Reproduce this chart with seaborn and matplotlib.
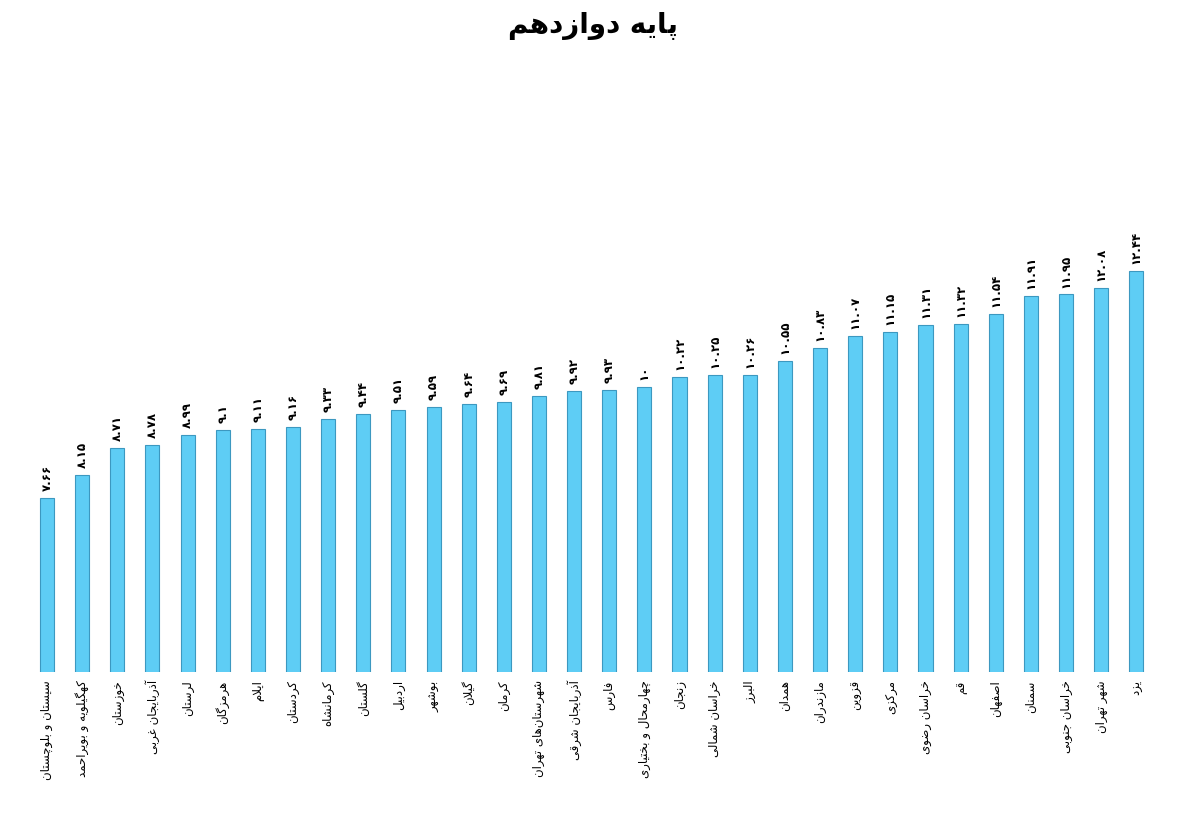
import matplotlib
matplotlib.use("Agg")
import matplotlib.pyplot as plt
import seaborn as sns
import pandas as pd

provinces = [
    "سیستان و بلوچستان", "کهگیلویه و بویراحمد", "خوزستان", "آذربایجان غربی",
    "لرستان", "هرمزگان", "ایلام", "کردستان", "کرمانشاه", "گلستان", "اردبیل",
    "بوشهر", "گیلان", "کرمان", "شهرستان\u200cهای تهران", "آذربایجان شرقی",
    "فارس", "چهارمحال و بختیاری", "زنجان", "خراسان شمالی", "البرز", "همدان",
    "مازندران", "قزوین", "مرکزی", "خراسان رضوی", "قم", "اصفهان", "سمنان",
    "خراسان جنوبی", "شهر تهران", "یزد",
]
values = [7.66, 8.15, 8.71, 8.78, 8.99, 9.1, 9.11, 9.16, 9.33, 9.44, 9.51,
          9.59, 9.64, 9.69, 9.81, 9.92, 9.93, 10, 10.22, 10.25, 10.26, 10.55,
          10.83, 11.07, 11.15, 11.31, 11.32, 11.54, 11.91, 11.95, 12.08, 12.44]
title = "پایه دوازدهم"

# --- minimal Arabic/Persian shaper (matplotlib has no shaping) ---
FORMS = {
    '\u0627': (0xFE8D, 0xFE8E, None, None),
    '\u0622': (0xFE81, 0xFE82, None, None),
    '\u0628': (0xFE8F, 0xFE90, 0xFE91, 0xFE92),
    '\u062A': (0xFE95, 0xFE96, 0xFE97, 0xFE98),
    '\u062C': (0xFE9D, 0xFE9E, 0xFE9F, 0xFEA0),
    '\u062D': (0xFEA1, 0xFEA2, 0xFEA3, 0xFEA4),
    '\u062E': (0xFEA5, 0xFEA6, 0xFEA7, 0xFEA8),
    '\u062F': (0xFEA9, 0xFEAA, None, None),
    '\u0630': (0xFEAB, 0xFEAC, None, None),
    '\u0631': (0xFEAD, 0xFEAE, None, None),
    '\u0632': (0xFEAF, 0xFEB0, None, None),
    '\u0633': (0xFEB1, 0xFEB2, 0xFEB3, 0xFEB4),
    '\u0634': (0xFEB5, 0xFEB6, 0xFEB7, 0xFEB8),
    '\u0635': (0xFEB9, 0xFEBA, 0xFEBB, 0xFEBC),
    '\u0636': (0xFEBD, 0xFEBE, 0xFEBF, 0xFEC0),
    '\u063A': (0xFECD, 0xFECE, 0xFECF, 0xFED0),
    '\u0641': (0xFED1, 0xFED2, 0xFED3, 0xFED4),
    '\u0642': (0xFED5, 0xFED6, 0xFED7, 0xFED8),
    '\u0644': (0xFEDD, 0xFEDE, 0xFEDF, 0xFEE0),
    '\u0645': (0xFEE1, 0xFEE2, 0xFEE3, 0xFEE4),
    '\u0646': (0xFEE5, 0xFEE6, 0xFEE7, 0xFEE8),
    '\u0647': (0xFEE9, 0xFEEA, 0xFEEB, 0xFEEC),
    '\u0648': (0xFEED, 0xFEEE, None, None),
    '\u067E': (0xFB56, 0xFB57, 0xFB58, 0xFB59),
    '\u0686': (0xFB7A, 0xFB7B, 0xFB7C, 0xFB7D),
    '\u06A9': (0xFB8E, 0xFB8F, 0xFB90, 0xFB91),
    '\u06AF': (0xFB92, 0xFB93, 0xFB94, 0xFB95),
    '\u06CC': (0xFBFC, 0xFBFD, 0xFBFE, 0xFBFF),
}


def shape(text):
    # lam-alef ligatures
    chars = []
    i = 0
    while i < len(text):
        c = text[i]
        if c == '\u0644' and i + 1 < len(text) and text[i + 1] in ('\u0627', '\u0622'):
            chars.append(('LA', text[i + 1]))
            i += 2
        else:
            chars.append((c, None))
            i += 1

    def dual(item):
        c, _ = item
        if c == 'LA':
            return False
        f = FORMS.get(c)
        return f is not None and f[2] is not None

    def joining(item):
        c, _ = item
        return c == 'LA' or c in FORMS

    out = []
    for k, item in enumerate(chars):
        c, extra = item
        prev_join = k > 0 and dual(chars[k - 1]) and joining(item)
        next_join = k + 1 < len(chars) and dual(item) and joining(chars[k + 1])
        if c == 'LA':
            iso, fin = (0xFEFB, 0xFEFC) if extra == '\u0627' else (0xFEF5, 0xFEF6)
            out.append(chr(fin if prev_join else iso))
            continue
        if c == '\u200c':
            continue
        f = FORMS.get(c)
        if f is None:
            out.append(c)
            continue
        iso, fin, ini, med = f
        if prev_join and next_join:
            out.append(chr(med))
        elif prev_join:
            out.append(chr(fin))
        elif next_join:
            out.append(chr(ini))
        else:
            out.append(chr(iso))
    return ''.join(reversed(out))


FA_DIGITS = str.maketrans('0123456789', '۰۱۲۳۴۵۶۷۸۹')


def fa_num(v):
    s = ('%g' % v)
    return s.translate(FA_DIGITS)


sns.set_theme(style="white")
plt.rcParams['font.family'] = ['DejaVu Sans']

df = pd.DataFrame({"province": [shape(p) for p in provinces], "value": values})

fig = plt.figure(figsize=(11.85, 8.26), dpi=100)
ax = fig.add_axes([0.0248, 0.1864, 0.949, 0.575])
sns.barplot(data=df, x="province", y="value", color="#5ECDF5",
            edgecolor="#3C98C0", linewidth=0.8, width=0.4, ax=ax,
            saturation=1)
ax.set_ylim(4, 14)
ax.set_xlim(-0.5, len(values) - 0.5)
ax.set_xlabel("")
ax.set_ylabel("")
ax.set_yticks([])
for s in ax.spines.values():
    s.set_visible(False)
ax.tick_params(axis='x', length=0, pad=6)
for lbl in ax.get_xticklabels():
    lbl.set_rotation(90)
    lbl.set_ha('center')
    lbl.set_va('top')
    lbl.set_fontsize(8.5)
    lbl.set_color('black')

for k, v in enumerate(values):
    ax.annotate(fa_num(v), (k, v), xytext=(0, 5), textcoords='offset points',
                rotation=90, ha='center', va='bottom', fontsize=8.5,
                fontweight='bold', color='black')

fig.text(0.5, 0.968, shape(title), ha='center', va='center', fontsize=20,
         fontweight='bold', color='black')

fig.savefig("out.png", dpi=100)
